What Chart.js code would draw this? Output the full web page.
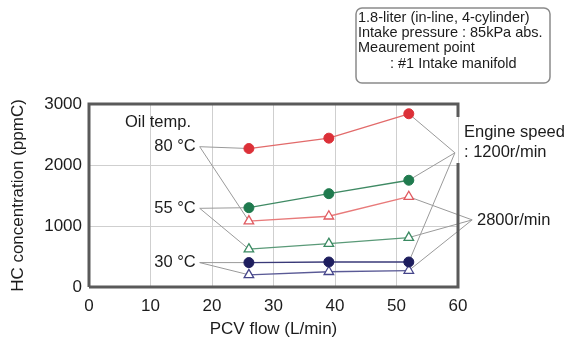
<!DOCTYPE html>
<html>
<head>
<meta charset="utf-8">
<script src="https://cdn.jsdelivr.net/npm/chart.js@4"></script>
<style>
  body { margin: 0; background: #fff; }
  #wrap { width: 573px; height: 343px; }
</style>
</head>
<body>
<div id="wrap"><canvas id="grafico" width="573" height="343"></canvas></div>
<script>
// datos
const pcvFlow = [26, 39, 52];
const hc1200_80 = [2270, 2440, 2840];
const hc1200_55 = [1300, 1530, 1750];
const hc1200_30 = [400, 410, 410];
const hc2800_80 = [1080, 1160, 1480];
const hc2800_55 = [620, 710, 810];
const hc2800_30 = [200, 250, 270];
const xTicks = [0, 10, 20, 30, 40, 50, 60];
const yTicks = [0, 1000, 2000, 3000];

const FONT = 'Liberation Sans, Arial, sans-serif';
const TXT = '#1c1c1c';
const LEAD = '#9a9a9a';

function pts(ys) {
  return ys.map((y, i) => ({ x: pcvFlow[i], y: y }));
}

function serie(ys, color, filled, lineColor) {
  return {
    data: pts(ys),
    borderColor: lineColor,
    borderWidth: 1.3,
    pointStyle: filled ? 'circle' : 'triangle',
    pointRadius: filled ? 5 : 5.5,
    pointBackgroundColor: filled ? color : '#ffffff',
    pointBorderColor: color,
    pointBorderWidth: filled ? 1 : 1.3,
    order: 1
  };
}

// lineas guia (en unidades de datos)
const labelX = 18;
const speed1200 = { x: 59.5, y: 2200 };
const speed2800 = { x: 62.3, y: 1100 };

function guia(a, b) {
  return {
    data: [a, b],
    borderColor: LEAD,
    borderWidth: 1,
    pointRadius: 0,
    clip: false,
    order: 2
  };
}

const leaders = [
  guia({ x: labelX, y: hc1200_80[0] + 30 }, { x: pcvFlow[0], y: hc1200_80[0] }),
  guia({ x: labelX, y: hc1200_80[0] + 30 }, { x: pcvFlow[0], y: hc2800_80[0] }),
  guia({ x: labelX, y: 1290 }, { x: pcvFlow[0], y: hc1200_55[0] }),
  guia({ x: labelX, y: 1290 }, { x: pcvFlow[0], y: hc2800_55[0] }),
  guia({ x: labelX, y: 400 }, { x: pcvFlow[0], y: hc1200_30[0] }),
  guia({ x: labelX, y: 400 }, { x: pcvFlow[0], y: hc2800_30[0] }),
  guia({ x: pcvFlow[2], y: hc1200_80[2] }, speed1200),
  guia({ x: pcvFlow[2], y: hc1200_55[2] }, speed1200),
  guia({ x: pcvFlow[2], y: hc1200_30[2] }, speed1200),
  guia({ x: pcvFlow[2], y: hc2800_80[2] }, speed2800),
  guia({ x: pcvFlow[2], y: hc2800_55[2] }, speed2800),
  guia({ x: pcvFlow[2], y: hc2800_30[2] }, speed2800)
];

// textos y marco
const anotaciones = {
  id: 'anotaciones',
  afterDraw(chart) {
    const { ctx, chartArea: ca, scales } = chart;
    const xs = scales.x, ys = scales.y;
    ctx.save();
    // marco
    ctx.strokeStyle = '#5a5a5a';
    ctx.lineWidth = 3;
    ctx.beginPath();
    ctx.moveTo(ca.left, ca.bottom);
    ctx.lineTo(ca.left, ca.top);
    ctx.lineTo(ca.right, ca.top);
    ctx.lineTo(ca.right, ca.top + 13);
    ctx.moveTo(ca.right, ca.top + 59);
    ctx.lineTo(ca.right, ca.bottom);
    ctx.lineTo(ca.left, ca.bottom);
    ctx.stroke();

    ctx.fillStyle = TXT;
    ctx.font = '16.5px ' + FONT;
    ctx.textBaseline = 'middle';
    ctx.textAlign = 'left';
    ctx.fillText('Oil temp.', 125, 122);
    ctx.textAlign = 'right';
    const lx = xs.getPixelForValue(labelX) - 4;
    ctx.fillText('80 °C', lx, ys.getPixelForValue(hc1200_80[0] + 30));
    ctx.fillText('55 °C', lx, ys.getPixelForValue(1290));
    ctx.fillText('30 °C', lx, ys.getPixelForValue(400));
    ctx.textAlign = 'left';
    ctx.fillText('Engine speed', 464, 132);
    ctx.fillText(': 1200r/min', 464, 152);
    ctx.fillText('2800r/min', 477, 220);

    // cuadro de condiciones
    ctx.strokeStyle = '#8a8a8a';
    ctx.lineWidth = 1.5;
    ctx.beginPath();
    ctx.roundRect(356, 8, 194, 75, 6);
    ctx.stroke();
    ctx.font = '14.5px ' + FONT;
    ctx.fillText('1.8-liter (in-line, 4-cylinder)', 358, 18);
    ctx.fillText('Intake pressure : 85kPa abs.', 358, 33);
    ctx.fillText('Meaurement point', 358, 48);
    ctx.fillText(': #1 Intake manifold', 390, 64);
    ctx.restore();
  }
};

const ctx = document.getElementById('grafico').getContext('2d');
new Chart(ctx, {
  type: 'line',
  data: {
    datasets: [
      serie(hc1200_80, '#dc3038', true, '#e26a6a'),
      serie(hc1200_55, '#1f7a4e', true, '#3f8a64'),
      serie(hc1200_30, '#1e1e5e', true, '#3a3a78'),
      serie(hc2800_80, '#e05a60', false, '#e87a7a'),
      serie(hc2800_55, '#3a8a62', false, '#5a9a78'),
      serie(hc2800_30, '#45458a', false, '#5a5a96')
    ].concat(leaders)
  },
  options: {
    responsive: false,
    animation: false,
    events: [],
    layout: { padding: { top: 104, right: 115, left: 0, bottom: 0 } },
    plugins: { legend: { display: false }, tooltip: { enabled: false } },
    scales: {
      x: {
        type: 'linear',
        min: 0,
        max: 60,
        afterFit(s) { s.height = 56; },
        afterBuildTicks(s) { s.ticks = xTicks.map(v => ({ value: v })); },
        grid: { color: '#cfcfcf', lineWidth: 1, drawTicks: false },
        border: { display: false },
        ticks: { color: TXT, font: { family: FONT, size: 17 }, padding: 9, maxRotation: 0, callback: v => String(v) },
        title: { display: true, text: 'PCV flow (L/min)', color: TXT, font: { family: FONT, size: 17 }, padding: { top: 0, bottom: 3 } }
      },
      y: {
        min: 0,
        max: 3000,
        afterFit(s) { s.width = 89; },
        afterBuildTicks(s) { s.ticks = yTicks.map(v => ({ value: v })); },
        grid: { color: '#cfcfcf', lineWidth: 1, drawTicks: false },
        border: { display: false },
        ticks: { color: TXT, font: { family: FONT, size: 17 }, padding: 7, callback: v => String(v) },
        title: { display: true, text: 'HC concentration (ppmC)', color: TXT, font: { family: FONT, size: 17 }, padding: { top: 8, bottom: 0 } }
      }
    }
  },
  plugins: [anotaciones]
});
</script>
</body>
</html>
